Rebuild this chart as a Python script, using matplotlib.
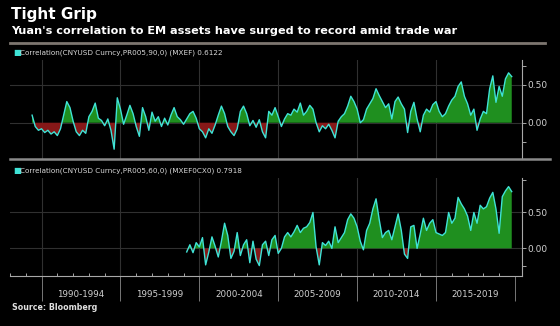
import numpy as np
import matplotlib.pyplot as plt
from matplotlib.lines import Line2D
from matplotlib.transforms import blended_transform_factory

# data: 60/90-day correlations, sampled every 0.2 years
step = 0.2
top_start = 1989.4
top_vals = [0.10, -0.05, -0.10, -0.08, -0.13, -0.10, -0.15, -0.12, -0.17, -0.08,
            0.10, 0.28, 0.20, 0.02, -0.12, -0.17, -0.10, -0.14, 0.08, 0.15,
            0.26, 0.06, 0.03, -0.04, 0.05, -0.10, -0.35, 0.33, 0.18, -0.02,
            0.10, 0.23, 0.12, -0.05, -0.18, 0.20, 0.08, -0.10, 0.14, 0.02,
            0.08, -0.05, 0.06, -0.03, 0.10, 0.20, 0.08, 0.04, -0.02, 0.05,
            0.12, 0.15, 0.06, -0.08, -0.12, -0.20, -0.08, -0.14, -0.03, 0.10,
            0.22, 0.12, -0.05, -0.12, -0.17, -0.08, 0.15, 0.22, 0.12, -0.04,
            0.03, -0.06, 0.04, -0.12, -0.20, 0.15, 0.10, 0.20, 0.08, -0.05,
            0.05, 0.12, 0.10, 0.18, 0.14, 0.26, 0.10, 0.15, 0.23, 0.18,
            0.00, -0.12, -0.04, -0.08, -0.02, -0.10, -0.20, 0.02, 0.08, 0.12,
            0.22, 0.35, 0.28, 0.18, 0.00, 0.04, 0.18, 0.25, 0.32, 0.45,
            0.36, 0.28, 0.20, 0.25, 0.05, 0.28, 0.34, 0.25, 0.18, -0.13,
            0.15, 0.27, 0.05, -0.12, 0.10, 0.18, 0.14, 0.24, 0.28, 0.15,
            0.08, 0.12, 0.22, 0.30, 0.35, 0.48, 0.54, 0.35, 0.25, 0.10,
            0.18, -0.10, 0.05, 0.15, 0.12, 0.45, 0.62, 0.27, 0.48, 0.35,
            0.58, 0.66, 0.61]

bot_start = 1999.2
bot_vals = [-0.05, 0.05, -0.06, 0.08, 0.02, 0.15, -0.23, -0.05, 0.16, 0.03,
            -0.12, 0.10, 0.35, 0.18, -0.14, -0.04, 0.22, -0.10, 0.05, 0.12,
            -0.20, 0.10, -0.15, -0.24, 0.05, 0.10, -0.10, 0.12, 0.18, -0.07,
            0.00, 0.16, 0.22, 0.16, 0.23, 0.32, 0.22, 0.28, 0.30, 0.36,
            0.50, 0.02, -0.23, 0.08, 0.04, 0.10, 0.00, 0.30, 0.08, 0.15,
            0.22, 0.40, 0.48, 0.42, 0.30, 0.10, -0.02, 0.25, 0.35, 0.55,
            0.69, 0.40, 0.15, 0.22, 0.25, 0.12, 0.30, 0.48, 0.25, -0.08,
            -0.14, 0.30, 0.32, 0.00, 0.20, 0.42, 0.25, 0.35, 0.40, 0.22,
            0.20, 0.18, 0.22, 0.50, 0.35, 0.42, 0.71, 0.62, 0.55, 0.45,
            0.25, 0.50, 0.35, 0.60, 0.55, 0.58, 0.70, 0.78, 0.55, 0.21,
            0.72, 0.80, 0.86, 0.79]

top_label = "Correlation(CNYUSD Curncy,PR005,90,0) (MXEF) 0.6122"
bot_label = "Correlation(CNYUSD Curncy,PR005,60,0) (MXEF0CX0) 0.7918"
periods = ["1990-1994", "1995-1999", "2000-2004", "2005-2009", "2010-2014", "2015-2019"]
period_starts = [1990, 1995, 2000, 2005, 2010, 2015]

W, H = 560, 326
BG = "black"
CYAN = "#3fe3d6"
GREEN = "#1f8f1f"
RED = "#861818"
GRID = "#303030"
AXC = "#a8a8a8"

fig = plt.figure(figsize=(W / 100, H / 100), dpi=100, facecolor=BG)


def fx(px):
    return px / W


def fy(py):
    return 1 - py / H


def panel(top, bottom, start, vals, ylim, yticks):
    ax = fig.add_axes([fx(10), fy(bottom), fx(512), (bottom - top) / H], facecolor=BG)
    x = start + step * np.arange(len(vals))
    y = np.array(vals)
    ax.fill_between(x, 0, y, where=y >= 0, interpolate=True, color=GREEN, lw=0, zorder=2)
    ax.fill_between(x, 0, y, where=y <= 0, interpolate=True, color=RED, lw=0, zorder=2)
    ax.plot(x, y, color=CYAN, lw=1.0, zorder=3)
    ax.set_xlim(1988.0, 2020.45)
    ax.set_ylim(*ylim)
    for g in range(1990, 2020, 5):
        ax.axvline(g, color=GRID, lw=0.8, zorder=1)
    for g in (0.0, 0.5):
        ax.axhline(g, color=GRID, lw=0.8, zorder=1)
    ax.yaxis.tick_right()
    ax.set_yticks(yticks)
    ax.set_yticklabels(["0.00" if t == 0 else "0.50" if t == 0.5 else "" for t in yticks])
    ax.tick_params(axis="y", colors=AXC, labelcolor="#d0d0d0", labelsize=6.5,
                   length=3, width=0.7, pad=1)
    for s in ("top", "left"):
        ax.spines[s].set_visible(False)
    ax.spines["right"].set_color(AXC)
    ax.spines["right"].set_linewidth(0.8)
    return ax


ax1 = panel(60, 159, top_start, top_vals, (-0.48, 0.83), [-0.25, 0.0, 0.5, 0.75])
ax1.spines["bottom"].set_visible(False)
ax1.set_xticks([])

ax2 = panel(178, 276, bot_start, bot_vals, (-0.385, 0.98), [-0.25, 0.0, 0.5, 0.95])
ax2.spines["bottom"].set_color(AXC)
ax2.spines["bottom"].set_linewidth(0.8)
ax2.set_xticks(range(1990, 2021, 5))
ax2.set_xticks(range(1988, 2021), minor=True)
ax2.set_xticklabels([])
ax2.tick_params(axis="x", which="major", length=18, width=0.7, colors="#777777")
ax2.tick_params(axis="x", which="minor", length=2, width=0.7, direction="in", colors=AXC)
tr = blended_transform_factory(ax2.transData, ax2.transAxes)
for s, lab in zip(period_starts, periods):
    ax2.text(s + 2.5, -0.19, lab, transform=tr, ha="center", va="center",
             color="#d0d0d0", fontsize=6.3)

# titles, separators, legends
fig.text(fx(11), fy(15), "Tight Grip", color="white", fontsize=11, fontweight="bold",
         va="center", ha="left")
fig.text(fx(11), fy(31), "Yuan's correlation to EM assets have surged to record amid trade war",
         color="white", fontsize=8.1, fontweight="bold", va="center", ha="left")
fig.add_artist(Line2D([fx(10), fx(545)], [fy(43), fy(43)], color="#7d7670", lw=2))
fig.add_artist(Line2D([fx(10), fx(550)], [fy(159.5), fy(159.5)], color="#8a8a8a", lw=1.8))

for ypx, lab in ((53, top_label), (171, bot_label)):
    fig.text(fx(13), fy(ypx), "\u25A0", color=CYAN, fontsize=6, va="center", ha="left")
    fig.text(fx(20), fy(ypx), lab, color="#d8d8d8", fontsize=5.2, va="center", ha="left")

fig.text(fx(12), fy(307), "Source: Bloomberg", color="#e0e0e0", fontsize=5.7,
         fontweight="bold", va="center", ha="left")

fig.savefig("out.png", dpi=100, facecolor=BG)
